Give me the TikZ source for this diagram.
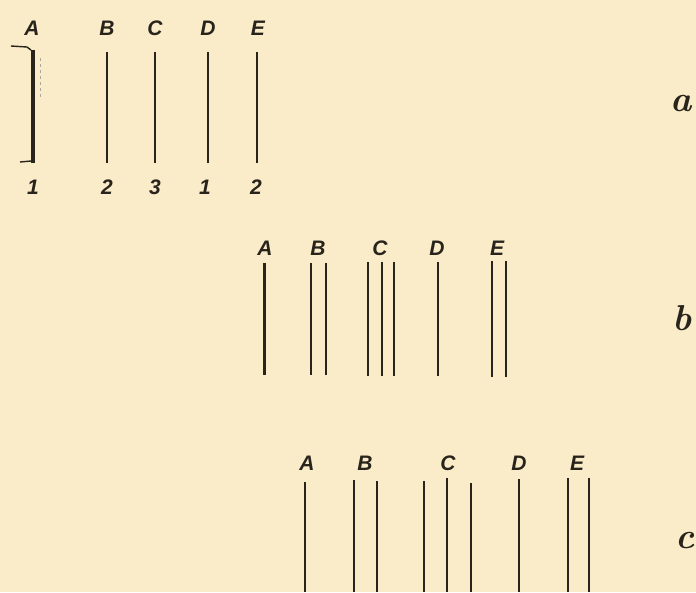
\documentclass[tikz,border=0pt]{standalone}
\usepackage{fontspec}
\newfontfamily\labfont{Liberation Sans}
\definecolor{paper}{RGB}{250,236,201}
\definecolor{ink}{RGB}{40,36,28}
\begin{document}
\begin{tikzpicture}[x=1pt,y=-1pt,
  lbl/.style={text=ink,font=\labfont\bfseries\itshape\fontsize{21}{21}\selectfont,inner sep=0pt},
  big/.style={text=ink,font=\bfseries\itshape\fontsize{36}{36}\selectfont,inner sep=0pt},
  rod/.style={draw=ink,line width=2.6pt},
  thick rod/.style={draw=ink,line width=4pt},
  tick/.style={draw=ink,line width=1.4pt}]
\fill[paper] (0,0) rectangle (696,592);
\useasboundingbox (0,0) rectangle (696,592);
% ---- a ----
\node[lbl] (aA) at (32,28) {A};
\node[lbl] (aB) at (107,28) {B};
\node[lbl] (aC) at (155,28) {C};
\node[lbl] (aD) at (208,28) {D};
\node[lbl] (aE) at (258,28) {E};
\draw[thick rod] (33,50) -- (33,163);
\draw[rod] (107,52) -- (107,163);
\draw[rod] (155,52) -- (155,163);
\draw[rod] (208,52) -- (208,163);
\draw[rod] (257,52) -- (257,163);
\draw[tick] (11,46) -- (27,47) -- (31,50);
\draw[tick] (20,162) -- (31,161);
\draw[ink!40,line width=0.8pt,dashed] (40,58) -- (40,97);
\node[lbl] (n1) at (33,187) {1};
\node[lbl] (n2) at (107,187) {2};
\node[lbl] (n3) at (155,187) {3};
\node[lbl] (n4) at (205,187) {1};
\node[lbl] (n5) at (256,187) {2};
\node[big] (la) at (681,104) {a};
% ---- b ----
\node[lbl] (bA) at (265,248) {A};
\node[lbl] (bB) at (318,248) {B};
\node[lbl] (bC) at (380,248) {C};
\node[lbl] (bD) at (437,248) {D};
\node[lbl] (bE) at (497,248) {E};
\draw[rod,line width=3pt] (264,263) -- (264,375);
\draw[rod] (311,263) -- (311,375);
\draw[rod] (326,263) -- (326,375);
\draw[rod] (368,262) -- (368,376);
\draw[rod] (382,262) -- (382,376);
\draw[rod] (394,262) -- (394,376);
\draw[rod] (438,262) -- (438,376);
\draw[rod] (492,261) -- (492,377);
\draw[rod] (506,261) -- (506,377);
\node[big] (lb) at (682,318) {b};
% ---- c ----
\node[lbl] (cA) at (307,463) {A};
\node[lbl] (cB) at (365,463) {B};
\node[lbl] (cC) at (448,463) {C};
\node[lbl] (cD) at (519,463) {D};
\node[lbl] (cE) at (577,463) {E};
\draw[rod] (305,482) -- (305,592);
\draw[rod] (354,480) -- (354,592);
\draw[rod] (377,481) -- (377,592);
\draw[rod] (424,481) -- (424,592);
\draw[rod] (447,478) -- (447,592);
\draw[rod] (471,483) -- (471,592);
\draw[rod] (519,479) -- (519,592);
\draw[rod] (568,478) -- (568,592);
\draw[rod] (589,478) -- (589,592);
\node[big] (lc) at (685,540) {c};
\end{tikzpicture}
\end{document}
